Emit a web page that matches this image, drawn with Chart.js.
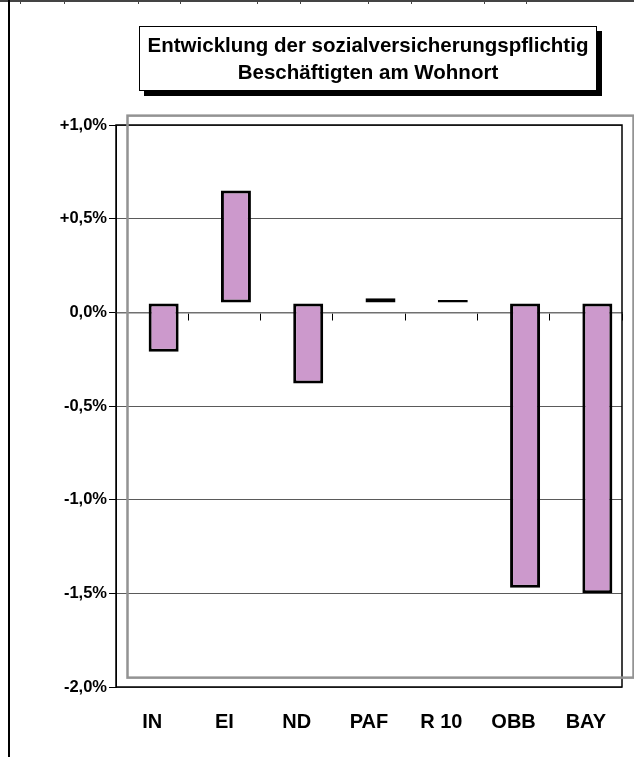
<!DOCTYPE html>
<html><head><meta charset="utf-8">
<script src="https://cdn.jsdelivr.net/npm/chart.js@4"></script>
<style>
html,body{margin:0;padding:0;background:#fff;overflow:hidden;}
#wrap{position:relative;width:634px;height:761px;}
#topline{position:absolute;left:0;top:0;width:634px;height:2px;background:#444;}
.tk{position:absolute;top:0;width:1px;height:4px;background:#444;}
#leftline{position:absolute;left:8px;top:0;width:2px;height:757px;background:#000;}
#title{position:absolute;left:139px;top:26px;width:458px;height:65px;border:1px solid #000;box-shadow:5px 5px 0 #000;background:#fff;font:bold 20.5px "Liberation Sans",Arial,sans-serif;text-align:center;line-height:27px;padding-top:4px;box-sizing:border-box;color:#000;white-space:nowrap;}
canvas{position:absolute;left:0;top:0;}
</style></head>
<body>
<div id="wrap">
<canvas id="c" width="634" height="761"></canvas>
<div id="topline"></div>
<div class="tk" style="left:20px"></div><div class="tk" style="left:64px"></div>
<div class="tk" style="left:138px"></div><div class="tk" style="left:180px"></div>
<div class="tk" style="left:257px"></div><div class="tk" style="left:300px"></div>
<div class="tk" style="left:368px"></div><div class="tk" style="left:411px"></div>
<div class="tk" style="left:484px"></div><div class="tk" style="left:526px"></div>
<div id="leftline"></div>
<div id="title">Entwicklung der sozialversicherungspflichtig<br>Beschäftigten am Wohnort</div>
</div>
<script>
const categories = ['IN', 'EI', 'ND', 'PAF', 'R 10', 'OBB', 'BAY'];
const changeValues = [-0.26, 0.60, -0.43, 0.025, 0.003, -1.52, -1.55];
const yTickValues = [1.0, 0.5, 0.0, -0.5, -1.0, -1.5, -2.0];
const yTickLabels = ['+1,0%', '+0,5%', '0,0%', '-0,5%', '-1,0%', '-1,5%', '-2,0%'];

// the bar layer (with its grey frame) is drawn offset from the axes, as in the original
const BAR_SHIFT_X = 11.5;      // px
const BAR_SHIFT_VALUE = 0.05;  // in axis units (%)

Chart.defaults.font.family = '"Liberation Sans", Arial, sans-serif';
Chart.defaults.color = '#000';

const frames = {
  id: 'frames',
  beforeDatasetsDraw(chart) {
    const {ctx, chartArea: a, scales: {y}} = chart;
    ctx.save();
    ctx.strokeStyle = '#000';
    ctx.lineWidth = 1.5;
    ctx.strokeRect(a.left, a.top, a.right - a.left, a.bottom - a.top);
    const dy = y.getPixelForValue(BAR_SHIFT_VALUE) - y.getPixelForValue(0);
    ctx.translate(BAR_SHIFT_X, dy);
    ctx.strokeStyle = '#939393';
    ctx.lineWidth = 2.5;
    ctx.strokeRect(a.left, a.top, a.right - a.left, a.bottom - a.top);
  },
  afterDatasetsDraw(chart) {
    chart.ctx.restore();
  }
};

new Chart(document.getElementById('c'), {
  type: 'bar',
  data: {
    labels: categories,
    datasets: [{
      data: changeValues,
      backgroundColor: '#CC99CC',
      borderColor: '#000',
      borderWidth: 3,
      borderSkipped: false,
      barPercentage: 0.415,
      categoryPercentage: 1,
      minBarLength: 3,
      clip: false,
      xAxisID: 'x',
      yAxisID: 'y'
    }]
  },
  options: {
    responsive: false,
    animation: false,
    devicePixelRatio: 1,
    layout: {padding: {top: 125, right: 12, left: 0, bottom: 0}},
    plugins: {legend: {display: false}, title: {display: false}, tooltip: {enabled: false}},
    scales: {
      y: {
        min: -2, max: 1,
        afterBuildTicks: s => { s.ticks = yTickValues.map(v => ({value: v})); },
        afterFit: s => { s.width = 116; },
        ticks: {
          font: {size: 16.5, weight: 'bold'},
          padding: 2,
          callback: v => yTickLabels[yTickValues.indexOf(Number(v.toFixed(1)))]
        },
        grid: {color: '#5a5a5a', lineWidth: 1, tickLength: 7, tickColor: '#000'},
        border: {display: true, color: '#000', width: 1}
      },
      x: {
        afterFit: s => { s.height = 74; },
        grid: {display: false},
        border: {display: false},
        ticks: {font: {size: 20, weight: 'bold'}, padding: 15}
      },
      x2: {
        type: 'category',
        position: {y: 0},
        offset: true,
        z: 1,
        grid: {offset: true, drawOnChartArea: false, tickLength: 7, tickColor: '#000', lineWidth: 1},
        border: {display: true, color: '#707070', width: 1.5},
        ticks: {display: false}
      }
    }
  },
  plugins: [frames]
});
</script>
</body></html>
